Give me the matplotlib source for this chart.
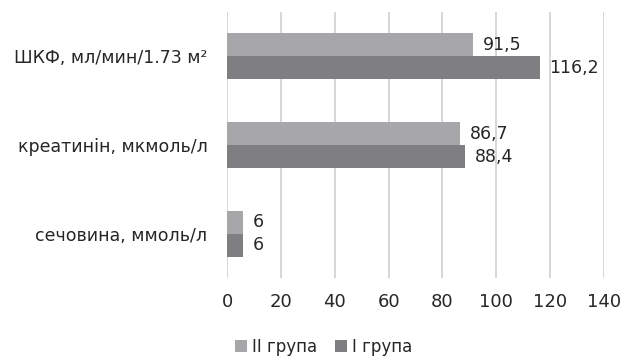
import matplotlib.pyplot as plt
import numpy as np

plt.rcParams['font.family'] = ['DejaVu Sans']

categories = ['сечовина, ммоль/л', 'креатинін, мкмоль/л', 'ШКФ, мл/мин/1.73 м²']
group2 = [6, 86.7, 91.5]
group1 = [6, 88.4, 116.2]
labels2 = ['6', '86,7', '91,5']
labels1 = ['6', '88,4', '116,2']

fig = plt.figure(figsize=(6.22, 3.56), dpi=100)
ax = fig.add_axes([0.365, 0.219, 0.606, 0.747])

y = np.arange(len(categories))
h = 0.26
b2 = ax.barh(y + h / 2, group2, height=h, color='#a7a7a9', label='II група')
b1 = ax.barh(y - h / 2, group1, height=h, color='#7f7f82', label='I група')

for bars, labs in ((b2, labels2), (b1, labels1)):
    for bar, lab in zip(bars, labs):
        ax.text(bar.get_width() + 3.5, bar.get_y() + bar.get_height() / 2, lab,
                va='center', ha='left', fontsize=12.5, color='#262626')

ax.set_xlim(0, 140)
ax.set_ylim(-0.5, 2.5)
ax.set_xticks(range(0, 141, 20))
ax.set_yticks(y)
ax.set_yticklabels(categories)
ax.tick_params(axis='both', length=0, labelsize=12.5, colors='#262626')
ax.tick_params(axis='x', labelsize=13, pad=11)
ax.tick_params(axis='y', pad=14)
ax.grid(axis='x', color='#d3d3d3', linewidth=1.3)
ax.set_axisbelow(True)
for s in ax.spines.values():
    s.set_visible(False)

fig.legend(handles=[b2, b1], loc='center', bbox_to_anchor=(0.52, 0.025), ncol=2,
           frameon=False, fontsize=12, handlelength=0.7, handleheight=0.7,
           handletextpad=0.3, columnspacing=1.1, labelcolor='#262626')

fig.savefig('out.png', dpi=100)
